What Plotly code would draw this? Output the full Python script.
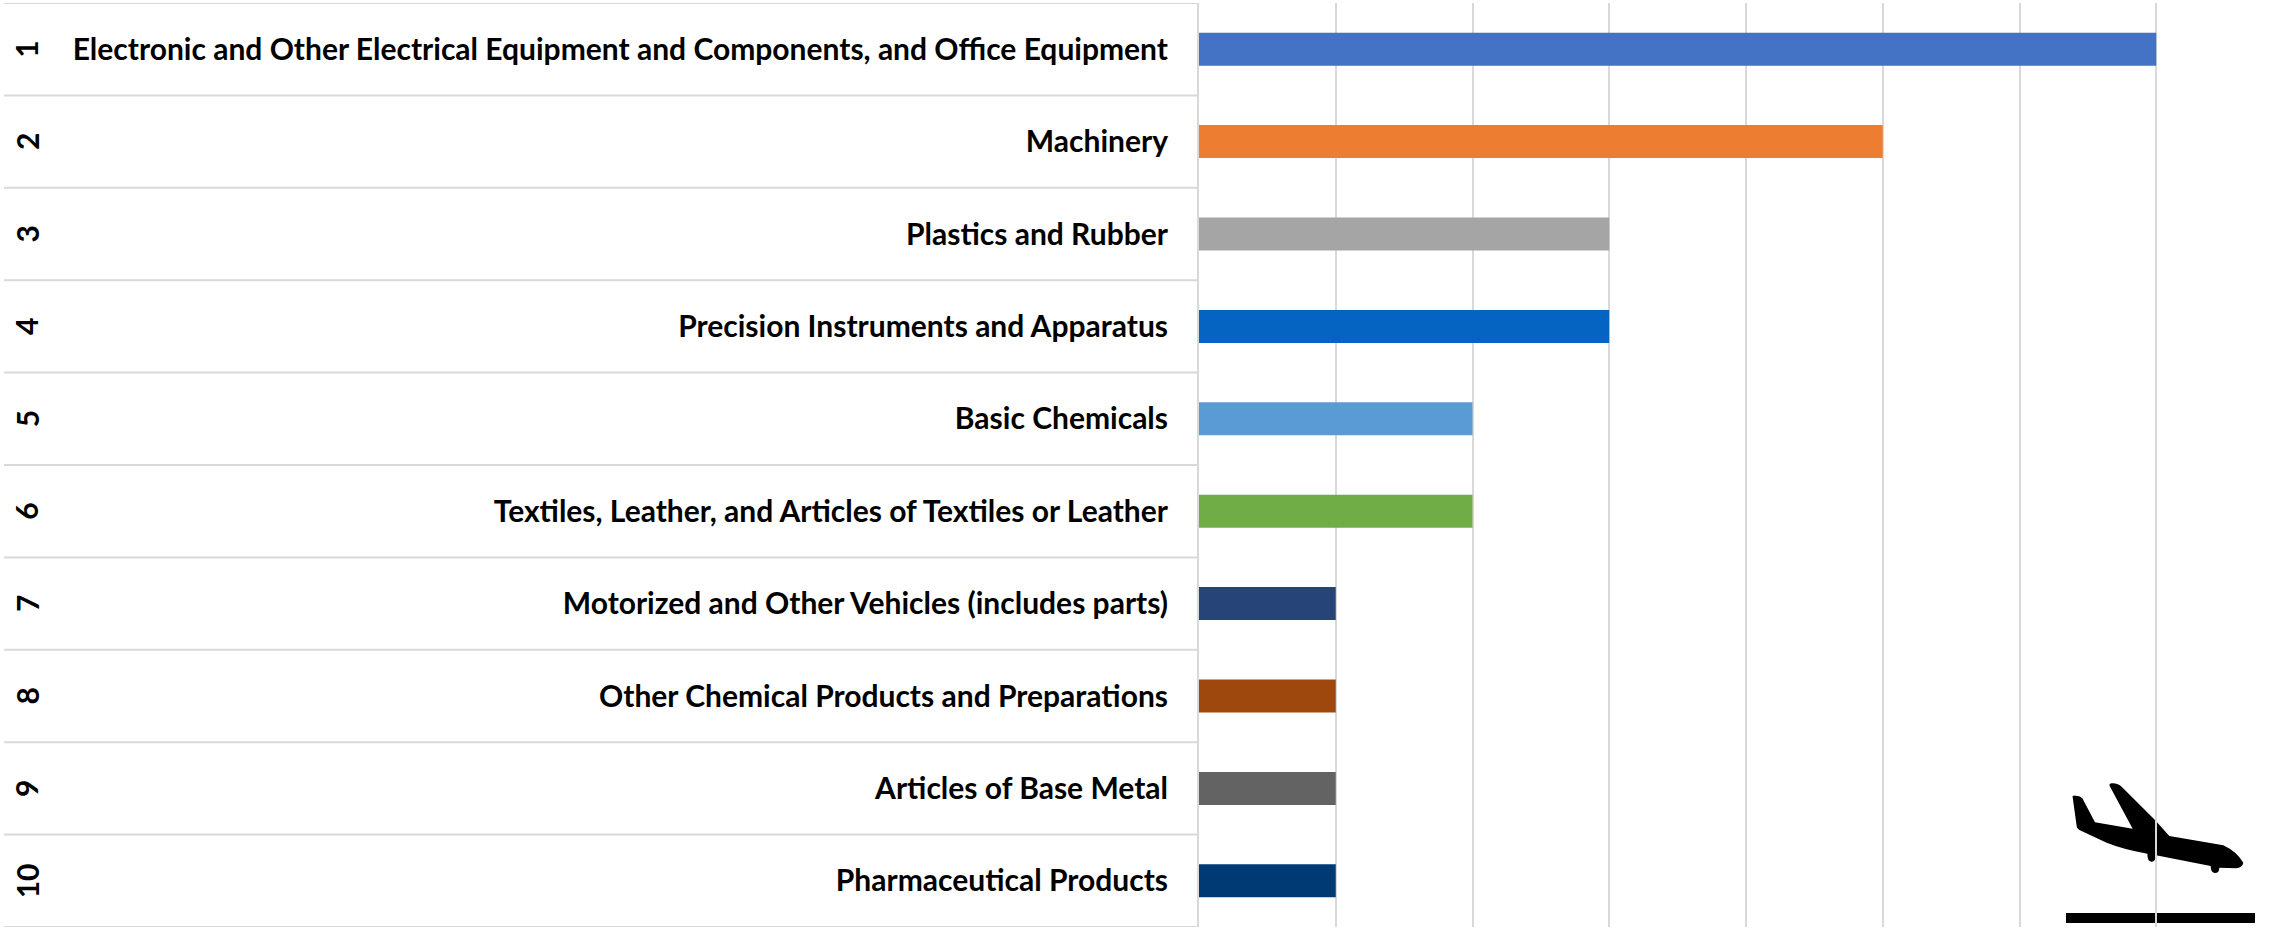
import plotly.graph_objects as go

ranks = [1, 2, 3, 4, 5, 6, 7, 8, 9, 10]
categories = [
    "Electronic and Other Electrical Equipment and Components, and Office Equipment",
    "Machinery",
    "Plastics and Rubber",
    "Precision Instruments and Apparatus",
    "Basic Chemicals",
    "Textiles, Leather, and Articles of Textiles or Leather",
    "Motorized and Other Vehicles (includes parts)",
    "Other Chemical Products and Preparations",
    "Articles of Base Metal",
    "Pharmaceutical Products",
]
values = [7, 5, 3, 3, 2, 2, 1, 1, 1, 1]
colors = ["#4472C4", "#ED7D31", "#A5A5A5", "#0563C1", "#5B9BD5",
          "#70AD47", "#264478", "#9E480E", "#636363", "#003A75"]

W, H = 2293, 929
L, R, T, B = 1199, 0, 3, 2
GRID = "#D9D9D9"
FONT = "Lato"
FSIZE = 30


def px(x):
    return (x - L) / (W - L - R)


def py(y):
    return 1 - (y - T) / (H - T - B)


def zx(v):
    return px(1950 + v / 3)


def zy(v):
    return py(740 + v / 3)


plane_pts = [
    ("M", 368, 172), ("Q", 366, 166, 376, 167), ("Q", 392, 168, 397, 175),
    ("L", 435, 247), ("L", 548, 266), ("L", 479, 138), ("Q", 476, 129, 488, 130),
    ("Q", 505, 131, 515, 140), ("L", 615, 240), ("L", 658, 288), ("L", 820, 316),
    ("Q", 860, 335, 880, 368), ("Q", 878, 382, 858, 385), ("L", 808, 383),
    ("Q", 808, 399, 795, 399), ("Q", 782, 399, 782, 378), ("L", 618, 346),
    ("Q", 618, 365, 605, 365), ("Q", 592, 365, 592, 341), ("Q", 520, 328, 470, 308),
    ("L", 388, 270), ("Q", 380, 266, 380, 258), ("Z",),
]
parts = []
for p in plane_pts:
    if p[0] == "Z":
        parts.append("Z")
    else:
        coords = []
        for i in range(1, len(p), 2):
            coords.append(f"{zx(p[i]):.5f},{zy(p[i + 1]):.5f}")
        parts.append(p[0] + " ".join(coords))
plane_path = " ".join(parts)

fig = go.Figure(go.Bar(
    x=values, y=categories, orientation="h",
    marker=dict(color=colors, line=dict(width=0)),
    showlegend=False,
))

shapes = []
for i in range(len(categories) + 1):
    shapes.append(dict(type="line", xref="paper", yref="y",
                       x0=px(4), x1=0, y0=i - 0.5, y1=i - 0.5,
                       line=dict(color=GRID, width=2), layer="below"))
shapes.append(dict(type="path", xref="paper", yref="paper", path=plane_path,
                   fillcolor="#000000", line=dict(width=0), layer="below"))
shapes.append(dict(type="rect", xref="paper", yref="paper",
                   x0=px(2066), x1=px(2255), y0=py(923), y1=py(913),
                   fillcolor="#000000", line=dict(width=0), layer="below"))

annotations = [
    dict(text=str(r), xref="paper", yref="y", x=px(26.5), y=i, showarrow=False,
         textangle=-90, xanchor="center", yanchor="middle",
         font=dict(family=FONT, size=FSIZE, color="#000000", weight=700))
    for i, r in enumerate(ranks)
]

fig.update_layout(
    width=W, height=H,
    margin=dict(l=L, r=R, t=T, b=B, pad=0),
    paper_bgcolor="#FFFFFF", plot_bgcolor="rgba(0,0,0,0)",
    bargap=1 - 33 / 92.4,
    shapes=shapes, annotations=annotations,
    xaxis=dict(range=[0, 8], dtick=1, tick0=0, showgrid=True, gridcolor=GRID,
               gridwidth=2, zeroline=False, showticklabels=False, ticks=""),
    yaxis=dict(type="category", categoryorder="array", categoryarray=categories,
               range=[len(categories) - 0.5, -0.5], showgrid=False, zeroline=False,
               showline=True, linecolor=GRID, linewidth=2, ticks="",
               ticklabelstandoff=23,
               tickfont=dict(family=FONT, size=FSIZE, color="#000000", weight=700)),
)

fig.write_html("out.html", config={"displayModeBar": False},
               post_script="document.body.style.margin='0';document.body.style.overflow='hidden';")
